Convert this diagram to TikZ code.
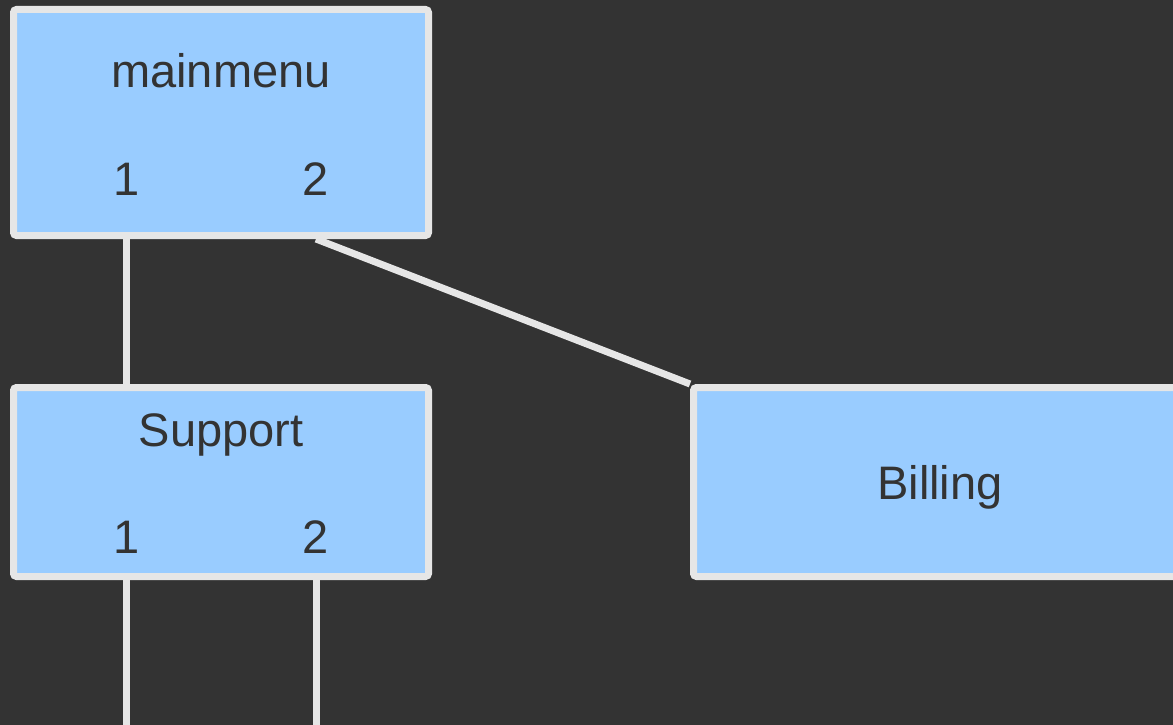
\documentclass[tikz,border=0pt]{standalone}
\usepackage{fontspec}
\setmainfont{Liberation Sans}
\usetikzlibrary{backgrounds}
\definecolor{bgc}{HTML}{333333}
\definecolor{boxfill}{HTML}{99CCFF}
\definecolor{boxline}{HTML}{E6E6E6}
\definecolor{txt}{HTML}{333333}
\tikzset{
  menubox/.style={draw=boxline, fill=boxfill, line width=7pt, rounded corners=3pt, inner sep=0pt, rectangle},
  lbl/.style={anchor=base, inner sep=0pt, text=txt, font=\fontsize{47}{56}\selectfont},
  wire/.style={draw=boxline, line width=7pt}
}
\begin{document}
\begin{tikzpicture}[x=1pt, y=-1pt]
\useasboundingbox (0,0) rectangle (1173,725);
\clip (0,0) rectangle (1173,725);
% boxes
\node[menubox, minimum width=415pt, minimum height=226pt] (mm) at (221,122.5) {};
\node[menubox, minimum width=415pt, minimum height=189pt] (sp) at (221,482) {};
\node[menubox, minimum width=496.5pt, minimum height=189pt] (bl) at (941.75,482) {};
% labels
\node[lbl] (mmt) at (221,88) {mainmenu};
\node[lbl] (m1) at (126,195) {\hspace*{2pt}1};
\node[lbl] (m2) at (316,195) {2};
\node[lbl] (spt) at (221,446) {Support};
\node[lbl] (s1) at (126,553) {\hspace*{2pt}1};
\node[lbl] (s2) at (316,553) {2};
\node[lbl] (blt) at (940,499) {Billing};
\coordinate (s1end) at (126,740);
\coordinate (s2end) at (316,740);
% connectors and background
\begin{scope}[on background layer]
\fill[bgc] (0,0) rectangle (1173,725);
\draw[wire] (m1 |- mm.south) -- (s1 |- sp.north);
\draw[wire] (m2 |- mm.south) -- (bl.north west);
\draw[wire] (s1 |- sp.south) -- (s1end);
\draw[wire] (s2 |- sp.south) -- (s2end);
\end{scope}
\end{tikzpicture}
\end{document}
